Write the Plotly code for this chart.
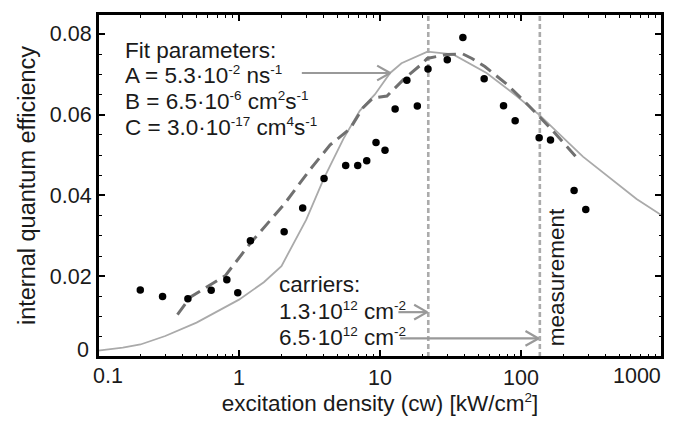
import numpy as np
import plotly.graph_objects as go

# ---- data ----
meas_x = [0.1995, 0.287, 0.434, 0.635, 0.82, 0.98, 1.205, 2.09, 2.83, 4.01, 5.71, 6.95, 8.05,
          9.37, 10.85, 12.8, 15.5, 18.4, 21.9, 30.0, 38.7, 54.8, 75.2, 90.9, 134.5, 161.9, 238, 288]
meas_y = [0.0166, 0.0150, 0.0144, 0.0165, 0.0191, 0.0159, 0.0288, 0.0310, 0.0369, 0.0442, 0.0474,
          0.0474, 0.0486, 0.0531, 0.0512, 0.0614, 0.0685, 0.0621, 0.0713, 0.0736, 0.0791, 0.0689,
          0.0622, 0.0585, 0.0543, 0.0537, 0.0412, 0.0365]

fit_x = [0.1, 0.15, 0.2, 0.3, 0.5, 0.7, 1.0, 1.5, 2.0, 3.0, 4.0, 5.5, 7.2, 9.2, 11.8, 14.2,
         21.7, 33, 57, 93, 136, 275, 660, 1000]
fit_y = [0.0016, 0.0023, 0.0031, 0.0052, 0.0085, 0.0112, 0.0142, 0.0185, 0.0225, 0.0340, 0.0442,
         0.0540, 0.0610, 0.0650, 0.0703, 0.0727, 0.0756, 0.0749, 0.0703, 0.0646, 0.0598, 0.0496,
         0.0391, 0.0350]

dash_x = [0.366, 0.451, 0.798, 1.20, 2.09, 3.19, 4.43, 6.13, 7.58, 8.92, 11.2, 15.0, 19.9, 21.6,
          29.8, 38.7, 44.9, 55.4, 79.4, 110, 160, 254]
dash_y = [0.0105, 0.0148, 0.0201, 0.0281, 0.0378, 0.0464, 0.0525, 0.0565, 0.0617, 0.0641, 0.0646,
          0.0690, 0.0726, 0.0739, 0.0749, 0.0750, 0.0739, 0.0719, 0.0675, 0.0627, 0.0568, 0.0490]

carrier_lines_x = [22.0, 136.0]

x_ticks = [0.1, 1, 10, 100, 1000]
x_ticktext = ["0.1", "1", "10", "100", "1000"]
y_ticks = [0, 0.02, 0.04, 0.06, 0.08]
y_ticktext = ["0", "0.02", "0.04", "0.06", "0.08"]

# ---- layout geometry ----
W, H = 679, 421
ML, MR, MT, MB = 97.7, 16.7, 11.7, 60.3
PW, PH = W - ML - MR, H - MT - MB
XR = [-1, 3]
YR = [0, 0.0849]
DEC_PX = PW / (XR[1] - XR[0])
Y_PER_PX = (YR[1] - YR[0]) / PH

FONT = "Liberation Sans, Arial, sans-serif"
TXT = "#1a1a1a"
ARROW_C = "#999999"
TICK_FS = 21.5
TEXT_FS = 22.5


def sup(s):
    return '<sup><span style="font-size:13.5px">%s</span></sup>' % s


fig = go.Figure()

# vertical dashed lines
for xv in carrier_lines_x:
    fig.add_trace(go.Scatter(x=[xv, xv], y=YR, mode="lines",
                             line=dict(color="#ababab", width=2.6, dash="5px,3px"),
                             hoverinfo="skip", showlegend=False, cliponaxis=False))

# fit curves
fig.add_trace(go.Scatter(x=fit_x, y=fit_y, mode="lines",
                         line=dict(color="#aaaaaa", width=1.8), showlegend=False))
fig.add_trace(go.Scatter(x=dash_x, y=dash_y, mode="lines",
                         line=dict(color="#707070", width=3, dash="13px,7px"), showlegend=False))


# arrows (line + open chevron)
def arrow(x0, x1, y):
    fx = 10 ** (-13 / DEC_PX)
    dy = 7.5 * Y_PER_PX
    fig.add_trace(go.Scatter(x=[x0, x1, None, x1 * fx, x1, x1 * fx],
                             y=[y, y, None, y + dy, y, y - dy], mode="lines",
                             line=dict(color=ARROW_C, width=2.2), hoverinfo="skip",
                             showlegend=False))


arrow(2.79, 11.8, 0.0703)
arrow(13.5, 21.6, 0.0111)
arrow(13.9, 133, 0.0046)

# measured points
fig.add_trace(go.Scatter(x=meas_x, y=meas_y, mode="markers",
                         marker=dict(color="black", size=7.5), showlegend=False))


def px2paper(px, py):
    return (px - ML) / PW, (H - MB - py) / PH


def label(text, px, py, angle=0, xanchor="left", size=TEXT_FS):
    xp, yp = px2paper(px, py)
    fig.add_annotation(x=xp, y=yp, xref="paper", yref="paper", text=text, showarrow=False,
                       xanchor=xanchor, yanchor="middle", textangle=angle,
                       font=dict(family=FONT, size=size, color=TXT))


label("Fit parameters:", 123, 48.7)
label("A = 5.3·10" + sup("-2") + " ns" + sup("-1"), 123, 73.7)
label("B = 6.5·10" + sup("-6") + " cm" + sup("2") + "s" + sup("-1"), 123, 100.3)
label("C = 3.0·10" + sup("-17") + " cm" + sup("4") + "s" + sup("-1"), 123, 127)
label("carriers:", 277, 287)
label("1.3·10" + sup("12") + " cm" + sup("-2"), 277, 313.7)
label("6.5·10" + sup("12") + " cm" + sup("-2"), 277, 340.3)
label("measurement", 556.7, 280, angle=-90, xanchor="center")

# edge tick labels placed like the reference (kept inside the frame)
label(x_ticktext[0], 108, 380, xanchor="center", size=TICK_FS)
label(x_ticktext[-1], 663, 380, xanchor="right", size=TICK_FS)
label(y_ticktext[0], 91, 354, xanchor="right", size=TICK_FS)

x_tt = [""] + x_ticktext[1:-1] + [""]
y_tt = [""] + y_ticktext[1:]

# plot frame
fig.add_shape(type="rect", xref="paper", yref="paper", x0=0, x1=1, y0=0, y1=1,
              line=dict(color="black", width=2), layer="above")

axis_common = dict(showline=True, linecolor="black", linewidth=2, mirror="allticks",
                   ticks="inside", ticklen=7, tickwidth=1.6, tickcolor="black",
                   showgrid=False, zeroline=False,
                   tickfont=dict(family=FONT, size=TICK_FS, color=TXT))

fig.update_layout(
    width=W, height=H,
    margin=dict(l=ML, r=MR, t=MT, b=MB, pad=0),
    paper_bgcolor="white", plot_bgcolor="white",
    xaxis=dict(type="log", range=XR, tickvals=x_ticks, ticktext=x_tt,
               title=dict(text="excitation density (cw) [kW/cm" + sup("2") + "]", standoff=4,
                          font=dict(family=FONT, size=TEXT_FS, color=TXT)),
               minor=dict(ticks="inside", ticklen=3.5, tickwidth=1.2, tickcolor="black",
                          tickvals=[m * 10 ** e for e in range(-1, 3) for m in range(2, 10)]),
               **axis_common),
    yaxis=dict(range=YR, tickvals=y_ticks, ticktext=y_tt,
               title=dict(text="internal quantum efficiency", standoff=8,
                          font=dict(family=FONT, size=23.5, color=TXT)),
               minor=dict(ticks="inside", ticklen=3.5, tickwidth=1.2, tickcolor="black",
                          dtick=0.005),
               **axis_common),
)

fig.write_html("out.html")
